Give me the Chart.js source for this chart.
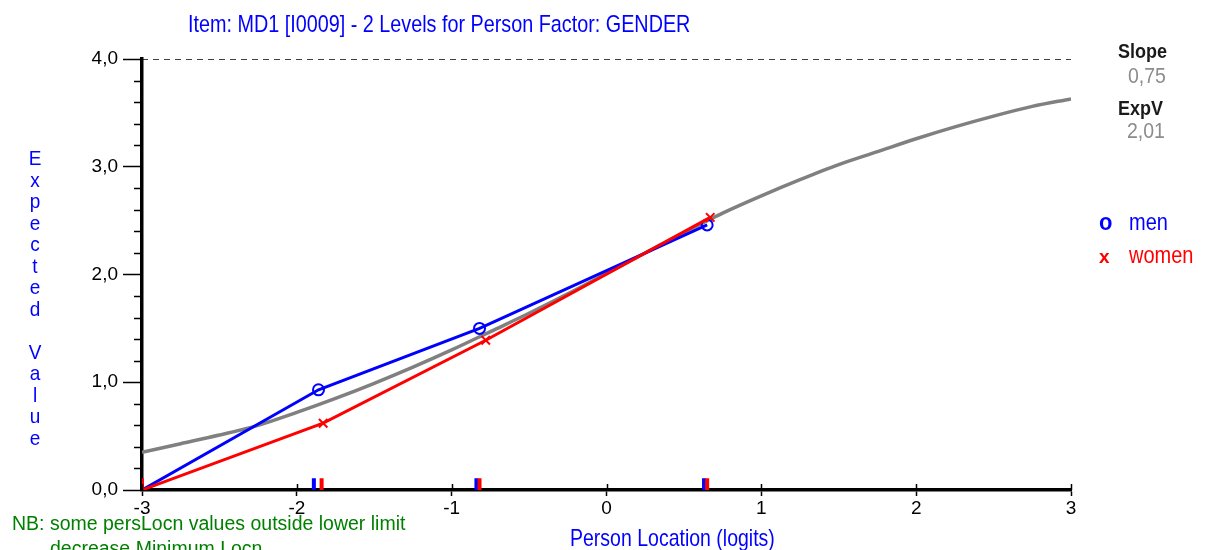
<!DOCTYPE html>
<html>
<head>
<meta charset="utf-8">
<script src="https://cdn.jsdelivr.net/npm/chart.js@4.4.0/dist/chart.umd.min.js"></script>
<style>
  html, body { margin: 0; padding: 0; background: #fff; }
  canvas { display: block; }
</style>
</head>
<body>
<canvas id="grafico" width="1210" height="550"></canvas>
<script>
// observed means per class interval
const menX = [-3, -1.86, -0.82, 0.65];
const menY = [0, 0.93, 1.50, 2.46];
const womenX = [-3, -1.83, -0.78, 0.67];
const womenY = [0, 0.62, 1.39, 2.53];

// expected value curve (grey)
const iccX = [-3, -2.75, -2.5, -2.25, -2, -1.75, -1.5, -1.25, -1, -0.75, -0.5, -0.25, 0,
              0.25, 0.5, 0.75, 1, 1.25, 1.5, 1.75, 2, 2.25, 2.5, 2.75, 3];
const iccY = [0.35, 0.43, 0.51, 0.60, 0.72, 0.85, 0.99, 1.14, 1.30, 1.47, 1.64, 1.82, 2.01,
              2.20, 2.39, 2.57, 2.73, 2.88, 3.02, 3.14, 3.26, 3.37, 3.47, 3.56, 3.63];

// class interval locations (marks on the x axis)
const menRug = [-1.89, -0.84, 0.63];
const womenRug = [-3, -1.84, -0.82, 0.65];

const xTickLabels = ['-3', '-2', '-1', '0', '1', '2', '3'];
const yTickLabels = ['0,0', '1,0', '2,0', '3,0', '4,0'];
const yMax = 4;

const slopeTxt = '0,75';
const expVTxt = '2,01';

const FONT = '"Liberation Sans", Arial, sans-serif';
const RUG_H = 0.11;

function pares(xs, ys) {
  return xs.map((x, i) => ({ x: x, y: ys[i] }));
}

function rug(xs) {
  const pts = [];
  xs.forEach(x => {
    pts.push({ x: x, y: 0 }, { x: x, y: RUG_H }, { x: x, y: null });
  });
  return pts;
}

// textos fora do grafico (titulo, eixo y vertical, notas, legenda)
const textos = [
  { t: 'Item: MD1 [I0009] - 2 Levels for Person Factor: GENDER', x: 188, y: 32, c: '#0000ff', s: 19.8, sy: 1.25 },
  { t: 'Person Location (logits)', x: 570, y: 546, c: '#0000ff', s: 19.5, sy: 1.2 },
  { t: 'NB: some persLocn values outside lower limit', x: 12, y: 530, c: '#008000', s: 19.5, sy: 1.08 },
  { t: 'decrease Minimum Locn', x: 50, y: 555, c: '#008000', s: 19.5, sy: 1.08 },
  { t: 'Slope', x: 1118, y: 58, c: '#1a1a1a', s: 18, sy: 1.15, b: true },
  { t: slopeTxt, x: 1128, y: 83, c: '#8c8c8c', s: 19.5, sy: 1.1 },
  { t: 'ExpV', x: 1118, y: 115, c: '#1a1a1a', s: 18, sy: 1.15, b: true },
  { t: expVTxt, x: 1127, y: 138, c: '#8c8c8c', s: 19.5, sy: 1.1 },
  { t: 'o', x: 1099, y: 230, c: '#0000ff', s: 22, sy: 1.05, b: true },
  { t: 'men', x: 1129, y: 230, c: '#0000ff', s: 20, sy: 1.15 },
  { t: 'x', x: 1099, y: 263, c: '#ff0000', s: 19, sy: 1.0, b: true },
  { t: 'women', x: 1129, y: 263, c: '#ff0000', s: 20, sy: 1.15 }
];

const extras = {
  id: 'extras',
  afterDraw(chart) {
    const ctx = chart.ctx;
    const xs = chart.scales.x;
    const ys = chart.scales.y;
    const area = chart.chartArea;

    ctx.save();
    ctx.strokeStyle = '#000';
    ctx.lineWidth = 1.5;
    // minor ticks on y
    for (let i = 1; i < yMax * 5; i++) {
      if (i % 5 === 0) continue;
      const py = Math.round(ys.getPixelForValue(i / 5)) + 0.5;
      ctx.beginPath();
      ctx.moveTo(area.left - 8, py);
      ctx.lineTo(area.left, py);
      ctx.stroke();
    }
    // x ticks also go a bit above the axis
    xs.ticks.forEach(tk => {
      const px = Math.round(xs.getPixelForValue(tk.value)) + 0.5;
      ctx.beginPath();
      ctx.moveTo(px, area.bottom - 6);
      ctx.lineTo(px, area.bottom);
      ctx.stroke();
    });

    // textos
    ctx.textBaseline = 'alphabetic';
    ctx.textAlign = 'left';
    textos.forEach(o => {
      ctx.save();
      ctx.translate(o.x, o.y);
      ctx.scale(1, o.sy);
      ctx.font = (o.b ? 'bold ' : '') + o.s + 'px ' + FONT;
      ctx.fillStyle = o.c;
      ctx.fillText(o.t, 0, 0);
      ctx.restore();
    });

    // "Expected Value" letra por letra na vertical
    const letras = 'Expected Value'.split('');
    ctx.textAlign = 'center';
    ctx.fillStyle = '#0000ff';
    ctx.font = '19px ' + FONT;
    letras.forEach((l, i) => {
      if (l === ' ') return;
      ctx.save();
      ctx.translate(35, 165 + i * 21.54);
      ctx.scale(1, 1.1);
      ctx.fillText(l, 0, 0);
      ctx.restore();
    });
    ctx.restore();
  }
};

const canvas = document.getElementById('grafico');
const ctx = canvas.getContext('2d');

const chart = new Chart(ctx, {
  type: 'line',
  data: {
    datasets: [
      {
        label: 'women rug',
        data: rug(womenRug),
        borderColor: '#ff0000',
        borderWidth: 4,
        borderCapStyle: 'butt',
        pointRadius: 0,
        spanGaps: false,
        order: 0
      },
      {
        label: 'men rug',
        data: rug(menRug),
        borderColor: '#0000ff',
        borderWidth: 4,
        borderCapStyle: 'butt',
        pointRadius: 0,
        spanGaps: false,
        order: 1
      },
      {
        label: 'women',
        data: pares(womenX, womenY),
        borderColor: '#ff0000',
        borderWidth: 3,
        pointStyle: 'crossRot',
        pointRadius: c => (c.dataIndex === 0 ? 0 : 6),
        pointBorderWidth: 2,
        pointBorderColor: '#ff0000',
        pointBackgroundColor: 'transparent',
        tension: 0,
        order: 2
      },
      {
        label: 'men',
        data: pares(menX, menY),
        borderColor: '#0000ff',
        borderWidth: 3,
        pointStyle: 'circle',
        pointRadius: c => (c.dataIndex === 0 ? 0 : 5.5),
        pointBorderWidth: 2,
        pointBorderColor: '#0000ff',
        pointBackgroundColor: 'transparent',
        tension: 0,
        order: 3
      },
      {
        label: 'expected',
        data: pares(iccX, iccY),
        borderColor: '#808080',
        borderWidth: 3.5,
        pointRadius: 0,
        cubicInterpolationMode: 'monotone',
        order: 4
      },
      {
        label: 'max',
        data: [{ x: -3, y: yMax }, { x: 3, y: yMax }],
        borderColor: '#000',
        borderWidth: 1.5,
        borderDash: [6, 5],
        pointRadius: 0,
        order: 5
      }
    ]
  },
  options: {
    responsive: false,
    devicePixelRatio: 1,
    animation: false,
    events: [],
    layout: { padding: { left: 0, top: 59, right: 139, bottom: 0 } },
    plugins: {
      legend: { display: false },
      tooltip: { enabled: false },
      title: { display: false }
    },
    scales: {
      x: {
        type: 'linear',
        min: -3,
        max: 3,
        afterFit: s => { s.height = 60; },
        border: { display: true, color: '#000', width: 3.5 },
        grid: { drawOnChartArea: false, drawTicks: true, tickLength: 6, tickColor: '#000', tickWidth: 1.5 },
        ticks: {
          stepSize: 1,
          padding: 1,
          autoSkip: false,
          maxRotation: 0,
          color: '#000',
          font: { family: FONT, size: 19 },
          callback: v => xTickLabels[Math.round(v) + 3]
        }
      },
      y: {
        min: 0,
        max: yMax,
        afterFit: s => { s.width = 142; },
        border: { display: true, color: '#000', width: 3.5 },
        grid: { drawOnChartArea: false, drawTicks: true, tickLength: 19, tickColor: '#000', tickWidth: 1.5 },
        ticks: {
          stepSize: 1,
          padding: 5,
          color: '#000',
          font: { family: FONT, size: 19 },
          callback: v => yTickLabels[Math.round(v)]
        }
      }
    }
  },
  plugins: [extras]
});
</script>
</body>
</html>
